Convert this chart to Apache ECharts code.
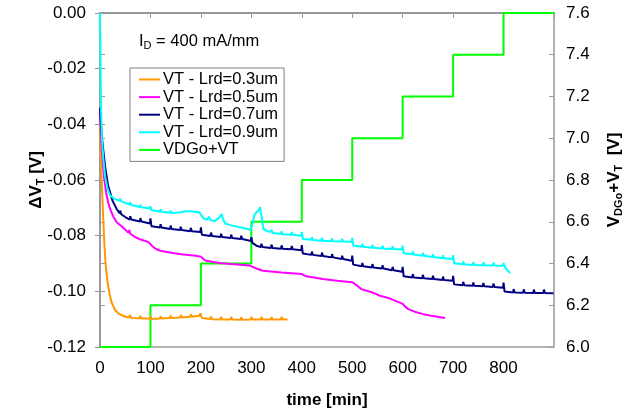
<!DOCTYPE html>
<html>
<head>
<meta charset="utf-8">
<script src="https://cdn.jsdelivr.net/npm/echarts@6/dist/echarts.min.js"></script>
<style>
  html, body { margin: 0; padding: 0; background: #fff; }
  #chart { width: 641px; height: 414px; }
</style>
</head>
<body>
<div id="chart"></div>
<script>
// 数据 (time [min], dVT [V]) 从图上读取
const lrd03 = [[0,-0.040],[1,-0.050],[3,-0.0585],[6,-0.072],[8.5,-0.0824],[11,-0.090],[15,-0.0968],[19,-0.1010],[23,-0.1040],[30,-0.1068],[36,-0.1078],[45,-0.1088],[56,-0.1094],
  [59,-0.1095],[60,-0.1086],[62,-0.1096],[79,-0.1097],[80,-0.1088],[82,-0.1098],[99,-0.1098],[100,-0.1089],[102,-0.1099],
  [119,-0.1098],[120,-0.1089],[122,-0.1098],[139,-0.1096],[140,-0.1087],[142,-0.1096],[159,-0.1094],[160,-0.1085],[162,-0.1094],
  [179,-0.1091],[180,-0.1082],[182,-0.1091],[197,-0.1088],[199,-0.1079],[202,-0.1096],[219,-0.1099],[220,-0.1090],[222,-0.1100],
  [239,-0.1101],[240,-0.1092],[242,-0.1101],[259,-0.1101],[260,-0.1092],[262,-0.1101],[279,-0.1102],[280,-0.1093],[282,-0.1102],
  [299,-0.1101],[300,-0.1092],[302,-0.1101],[319,-0.1101],[320,-0.1092],[322,-0.1101],[339,-0.1101],[340,-0.1092],[342,-0.1101],
  [359,-0.1101],[360,-0.1092],[362,-0.1101],[372,-0.1101]]

const lrd05 = [[0,-0.0357],[2,-0.045],[5,-0.0525],[8,-0.059],[12,-0.0644],[16,-0.0680],[20,-0.0704],[26,-0.0730],[33,-0.0752],[45,-0.0770],
  [56,-0.0789],[58,-0.0780],[60,-0.0793],[70,-0.0805],[78,-0.0812],[88,-0.0818],[97,-0.0824],[103,-0.0837],[111,-0.0848],[120,-0.0854],
  [130,-0.0858],[144,-0.0862],[165,-0.0868],[190,-0.0872],[200,-0.0876],[205,-0.0884],[210,-0.0890],[237,-0.0898],[260,-0.0902],
  [296,-0.0907],[310,-0.0918],[323,-0.0926],[360,-0.0932],[400,-0.0938],[409,-0.0946],[442,-0.0956],[470,-0.0962],[500,-0.0967],
  [510,-0.0980],[518,-0.0992],[540,-0.1004],[555,-0.1016],[575,-0.1026],[600,-0.1045],[605,-0.1055],[611,-0.1064],[625,-0.1074],
  [641,-0.1082],[660,-0.1089],[684,-0.1096]]

const lrd07 = [[0,-0.034],[2,-0.040],[4,-0.045],[7,-0.050],[10,-0.055],[13,-0.0585],[16,-0.062],[20,-0.0644],[25,-0.0675],[33,-0.0704],
  [39,-0.0720],[40,-0.0710],[42,-0.0723],[50,-0.0733],[59,-0.0742],[60,-0.0730],[62,-0.0742],[79,-0.0749],[80,-0.0737],[82,-0.0749],
  [99,-0.0756],[100,-0.0738],[102,-0.0766],[119,-0.0771],[120,-0.0759],[122,-0.0771],[139,-0.0776],[140,-0.0764],[142,-0.0776],
  [159,-0.0780],[160,-0.0768],[162,-0.0780],[179,-0.0784],[180,-0.0772],[182,-0.0784],[199,-0.0787],[200,-0.0770],[202,-0.0797],
  [219,-0.0801],[220,-0.0789],[222,-0.0801],[239,-0.0805],[240,-0.0793],[242,-0.0805],[259,-0.0808],[260,-0.0796],[262,-0.0808],
  [279,-0.0812],[280,-0.0800],[282,-0.0812],[299,-0.0819],[300,-0.0805],[302,-0.0826],[310,-0.0836],[319,-0.0841],[320,-0.0829],[322,-0.0841],
  [339,-0.0844],[340,-0.0832],[342,-0.0844],[359,-0.0847],[360,-0.0835],[362,-0.0847],[379,-0.0849],[380,-0.0837],[382,-0.0849],
  [399,-0.0852],[400,-0.0834],[402,-0.0864],[419,-0.0869],[420,-0.0857],[422,-0.0869],[439,-0.0873],[440,-0.0861],[442,-0.0873],
  [459,-0.0878],[460,-0.0866],[462,-0.0878],[479,-0.0884],[480,-0.0872],[482,-0.0884],[499,-0.0890],[500,-0.0872],[502,-0.0904],
  [519,-0.0910],[520,-0.0898],[522,-0.0910],[539,-0.0914],[540,-0.0902],[542,-0.0914],[559,-0.0918],[560,-0.0906],[562,-0.0918],
  [579,-0.0924],[580,-0.0912],[582,-0.0924],[599,-0.0930],[600,-0.0912],[602,-0.0946],[619,-0.0950],[620,-0.0938],[622,-0.0950],
  [639,-0.0953],[640,-0.0941],[642,-0.0953],[659,-0.0956],[660,-0.0944],[662,-0.0956],[679,-0.0959],[680,-0.0947],[682,-0.0959],
  [699,-0.0962],[700,-0.0944],[702,-0.0975],[719,-0.0978],[720,-0.0966],[722,-0.0978],[739,-0.0980],[740,-0.0968],[742,-0.0980],
  [759,-0.0982],[760,-0.0970],[762,-0.0982],[779,-0.0984],[780,-0.0972],[782,-0.0984],[799,-0.0987],[800,-0.0969],[802,-0.1001],
  [819,-0.1004],[820,-0.0992],[822,-0.1004],[839,-0.1005],[840,-0.0993],[842,-0.1005],[859,-0.1006],[860,-0.0994],[862,-0.1006],
  [879,-0.1006],[880,-0.0994],[882,-0.1006],[899,-0.1007]]

const lrd09 = [[0,0.000],[1,-0.018],[2,-0.0345],[4,-0.046],[7,-0.053],[10,-0.0585],[15,-0.0632],[20,-0.0655],[28,-0.0667],
  [39,-0.0675],[40,-0.0667],[42,-0.0677],[59,-0.0688],[60,-0.0680],[62,-0.0690],[79,-0.0697],[80,-0.0689],[82,-0.0698],
  [99,-0.0702],[100,-0.0694],[102,-0.0709],[119,-0.0713],[120,-0.0705],[122,-0.0714],[139,-0.0718],[140,-0.0710],[142,-0.0719],
  [160,-0.0716],[170,-0.0712],[179,-0.0712],[180,-0.0706],[182,-0.0713],[197,-0.0716],[200,-0.0712],[205,-0.0738],[212,-0.0743],
  [216,-0.0732],[219,-0.0745],[228,-0.0747],[236,-0.0736],[241,-0.0722],[244,-0.0740],[248,-0.0756],[260,-0.0763],[280,-0.0771],
  [298,-0.0779],[302,-0.0760],[306,-0.0726],[310,-0.0716],[314,-0.0710],[317,-0.0698],[319,-0.0702],[321,-0.0740],[324,-0.0776],
  [336,-0.0787],[339,-0.0789],[340,-0.0779],[342,-0.0790],[359,-0.0794],[360,-0.0784],[362,-0.0795],[379,-0.0797],[380,-0.0787],[382,-0.0797],
  [399,-0.0800],[400,-0.0786],[402,-0.0812],[419,-0.0815],[420,-0.0805],[422,-0.0816],[439,-0.0818],[440,-0.0808],[442,-0.0818],
  [459,-0.0820],[460,-0.0810],[462,-0.0820],[479,-0.0821],[480,-0.0811],[482,-0.0821],[499,-0.0822],[500,-0.0808],[502,-0.0835],
  [519,-0.0840],[520,-0.0830],[522,-0.0840],[539,-0.0843],[540,-0.0833],[542,-0.0843],[559,-0.0846],[560,-0.0836],[562,-0.0846],
  [579,-0.0848],[580,-0.0838],[582,-0.0848],[599,-0.0850],[600,-0.0836],[602,-0.0863],[619,-0.0867],[620,-0.0857],[622,-0.0868],
  [639,-0.0872],[640,-0.0862],[642,-0.0872],[659,-0.0877],[660,-0.0867],[662,-0.0877],[679,-0.0881],[680,-0.0871],[682,-0.0881],
  [699,-0.0884],[700,-0.0870],[702,-0.0899],[719,-0.0903],[720,-0.0893],[722,-0.0903],[739,-0.0905],[740,-0.0895],[742,-0.0905],
  [759,-0.0906],[760,-0.0896],[762,-0.0906],[779,-0.0907],[780,-0.0897],[782,-0.0907],[799,-0.0908],[800,-0.0898],[803,-0.0915],
  [808,-0.0925],[813,-0.0934]]

// VDGo+VT 阶梯 (右轴)
const stepTimes = [0, 100, 200, 300, 400, 500, 600, 700, 800, 900]
const stepValues = [6.0, 6.2, 6.4, 6.6, 6.8, 7.0, 7.2, 7.4, 7.6, 7.6]

const font = 'Liberation Sans, Arial, sans-serif'
const gray = '#999999'

const myChart = echarts.init(document.getElementById('chart'), null, { renderer: 'canvas' })

function lineSeries(name, data, color) {
  return {
    name: name,
    type: 'line',
    data: data,
    symbol: 'none',
    lineStyle: { color: color, width: 2 },
    itemStyle: { color: color },
    animation: false,
    z: 3
  }
}

const subStyle = { fontFamily: font, fontSize: 11, fontWeight: 'bold', verticalAlign: 'bottom', padding: [8, 0, 0, 0], color: '#000' }

const option = {
  backgroundColor: '#fff',
  title: {
    text: 'I{sub|D} = 400 mA/mm',
    left: 134,
    top: 27,
    textStyle: {
      fontFamily: font, fontSize: 16.5, fontWeight: 'normal', color: '#000',
      rich: { sub: { fontFamily: font, fontSize: 11, verticalAlign: 'bottom', padding: [8, 0, 0, 0], color: '#000' } }
    }
  },
  legend: {
    orient: 'vertical',
    left: 130,
    top: 68,
    padding: [3, 6, 3, 9],
    itemGap: 0.6,
    itemWidth: 21,
    itemHeight: 2,
    icon: 'rect',
    borderColor: '#808080',
    borderWidth: 1,
    backgroundColor: '#fff',
    textStyle: { fontFamily: font, fontSize: 16.5, color: '#000', lineHeight: 16, padding: [0, 0, 0, -2] },
    data: ['VT - Lrd=0.3um', 'VT - Lrd=0.5um', 'VT - Lrd=0.7um', 'VT - Lrd=0.9um', 'VDGo+VT']
  },
  grid: {
    left: 100, right: 87, top: 13, bottom: 66,
    show: true, borderColor: gray, borderWidth: 1.5, backgroundColor: 'transparent'
  },
  xAxis: [
    {
      type: 'value', min: 0, max: 900, interval: 100,
      name: 'time [min]', nameLocation: 'middle', nameGap: 45,
      nameTextStyle: { fontFamily: font, fontSize: 17, fontWeight: 'bold', color: '#000' },
      axisLine: { show: true, lineStyle: { color: gray, width: 2 } },
      axisTick: { show: true, length: 5, lineStyle: { color: gray, width: 1 } },
      axisLabel: {
        fontFamily: font, fontSize: 17, color: '#000', margin: 13,
        formatter: v => (v === 900 ? '' : String(v))
      },
      splitLine: { show: false }
    },
    {
      type: 'value', min: 0, max: 900, interval: 100,
      axisLine: { show: false }, axisLabel: { show: false }, splitLine: { show: false },
      axisTick: { show: true, inside: true, length: 5, lineStyle: { color: gray, width: 1 } }
    }
  ],
  yAxis: [
    {
      type: 'value', min: -0.12, max: 0, interval: 0.02,
      name: 'ΔV{sub|T} [V]', nameLocation: 'middle', nameGap: 54, nameRotate: 90, nameMoveOverlap: false,
      nameTextStyle: { fontFamily: font, fontSize: 17, fontWeight: 'bold', color: '#000', rich: { sub: subStyle } },
      axisLine: { show: true, lineStyle: { color: gray, width: 2 } },
      axisTick: { show: true, length: 5, lineStyle: { color: gray, width: 1 } },
      axisLabel: { fontFamily: font, fontSize: 17, color: '#000', margin: 14, formatter: v => v.toFixed(2) },
      splitLine: { show: false }
    },
    {
      type: 'value', min: 6.0, max: 7.6, interval: 0.2, position: 'right',
      name: 'V{sub|DGo}+V{sub|T}  [V]', nameLocation: 'middle', nameGap: 51, nameRotate: 90,
      nameTextStyle: { fontFamily: font, fontSize: 17, fontWeight: 'bold', color: '#000', rich: { sub: subStyle } },
      axisLine: { show: true, lineStyle: { color: gray, width: 2 } },
      axisTick: { show: true, length: 5, lineStyle: { color: gray, width: 1 } },
      axisLabel: { fontFamily: font, fontSize: 17, color: '#000', margin: 12, formatter: v => v.toFixed(1) },
      splitLine: { show: false }
    },
    {
      type: 'value', min: -0.12, max: 0, interval: 0.02, position: 'left',
      axisLine: { show: false }, axisLabel: { show: false }, splitLine: { show: false },
      axisTick: { show: true, inside: true, length: 5, lineStyle: { color: gray, width: 1 } }
    },
    {
      type: 'value', min: 6.0, max: 7.6, interval: 0.2, position: 'right',
      axisLine: { show: false }, axisLabel: { show: false }, splitLine: { show: false },
      axisTick: { show: true, inside: true, length: 5, lineStyle: { color: gray, width: 1 } }
    }
  ],
  series: [
    lineSeries('VT - Lrd=0.3um', lrd03, '#FF9900'),
    lineSeries('VT - Lrd=0.5um', lrd05, '#FF00FF'),
    lineSeries('VT - Lrd=0.7um', lrd07, '#000080'),
    lineSeries('VT - Lrd=0.9um', lrd09, '#00FFFF'),
    Object.assign(lineSeries('VDGo+VT', stepTimes.map((t, i) => [t, stepValues[i]]), '#00FF00'), { yAxisIndex: 1, step: 'end', z: 2 })
  ]
}

myChart.setOption(option)
</script>
</body>
</html>
